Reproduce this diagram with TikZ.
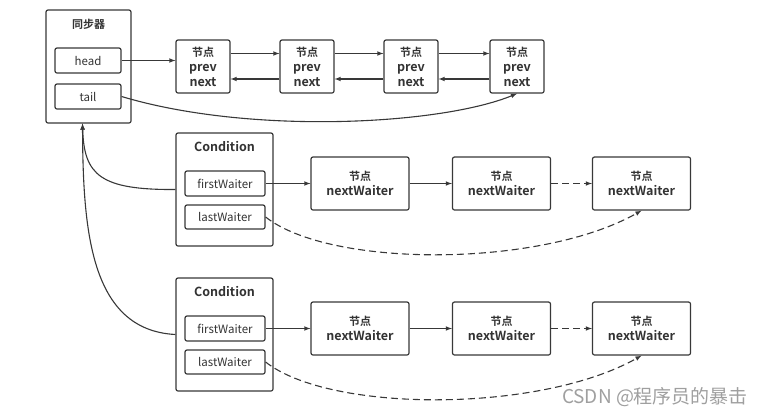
\documentclass[tikz,border=0pt]{standalone}
\usepackage{fontspec}
\setmainfont{Noto Sans CJK SC}[BoldFont={Noto Sans CJK SC Bold}]
\usetikzlibrary{calc,arrows}
\definecolor{linegray}{HTML}{383838}
\definecolor{textgray}{HTML}{333333}
\newcommand\nodehan{{\fontsize{11}{15}\selectfont 节点}}
\tikzset{
  box/.style={draw=linegray, line width=1.2pt, rounded corners=2pt, fill=white, inner sep=0pt, align=center},
  conn/.style={draw=linegray, line width=1.1pt, -latex},
  weak/.style={conn, dash pattern=on 7pt off 4pt},
  bold/.style={font=\bfseries\fontsize{12.5}{15}\selectfont}
}

\begin{document}
\begin{tikzpicture}[x=1pt,y=-1pt, font=\fontsize{11.5}{13}\selectfont, text=textgray]
        \useasboundingbox (0,0) rectangle (766,416);
        \node[box, minimum width=85pt, minimum height=113pt] (sync) at (88.5,66.5) {};
        \node[font=\bfseries\fontsize{11}{13}\selectfont] (syncname) at (88.5,24) {同步器};
        \node[box, minimum width=66pt, minimum height=25pt] (head) at (88,60.5) {head};
        \node[box, minimum width=66pt, minimum height=25pt] (tail) at (88,96.5) {tail};
        \foreach \i/\x in {1/203,2/307,3/411,4/517}
        \node[box, bold, minimum width=54pt, minimum height=53pt] (t\i) at (\x,66.5) {\nodehan\\prev\\next};
        \foreach \a/\b in {1/2,2/3,3/4}{
        \draw[conn] ([yshift=13pt]t\a.east) -- ([yshift=13pt]t\b.west);
        \draw[conn] ([yshift=-12.5pt]t\b.west) -- ([yshift=-12.5pt]t\a.east);
        }
        \draw[conn] (head.east) -- (head.east -| t1.west);
        \draw[conn] (tail.east) .. controls (250,135) and (440,125) .. (t4.south);
        \foreach \c/\y in {1/0,2/145}{
        \node[box, minimum width=97pt, minimum height=113pt] (c\c) at (224.5,189.5+\y) {};
        \node[bold] (cname\c) at (224.5,147+\y) {Condition};
        \node[box, minimum width=80pt, minimum height=25pt] (f\c) at (225,183.5+\y) {firstWaiter};
        \node[box, minimum width=80pt, minimum height=24pt] (l\c) at (225,217+\y) {lastWaiter};
        \foreach \j/\x in {1/360,2/501.5,3/641.5}
        \node[box, bold, minimum width=98pt, minimum height=53pt] (w\c\j) at (\x,183.5+\y) {\nodehan\\nextWaiter};
        \draw[conn] (f\c.east) -- (w\c1.west);
        \draw[conn] (w\c1.east) -- (w\c2.west);
        \draw[weak] (w\c2.east) -- (w\c3.west);
        \draw[weak] (l\c.east) .. controls (330,268+\y) and (540,268+\y) .. (w\c3.south);
        }
        \draw[conn] (c1.west) .. controls (100,190) and (84,175) .. ([xshift=-6pt]sync.south);
        \draw[conn] (c2.west) .. controls (90,330) and (83,230) .. ([xshift=-6pt]sync.south);
        \node[text=gray!75, font=\fontsize{19}{22}\selectfont] (mark) at (655,397) {CSDN @程序员的暴击};
    \end{tikzpicture}
\end{document}
